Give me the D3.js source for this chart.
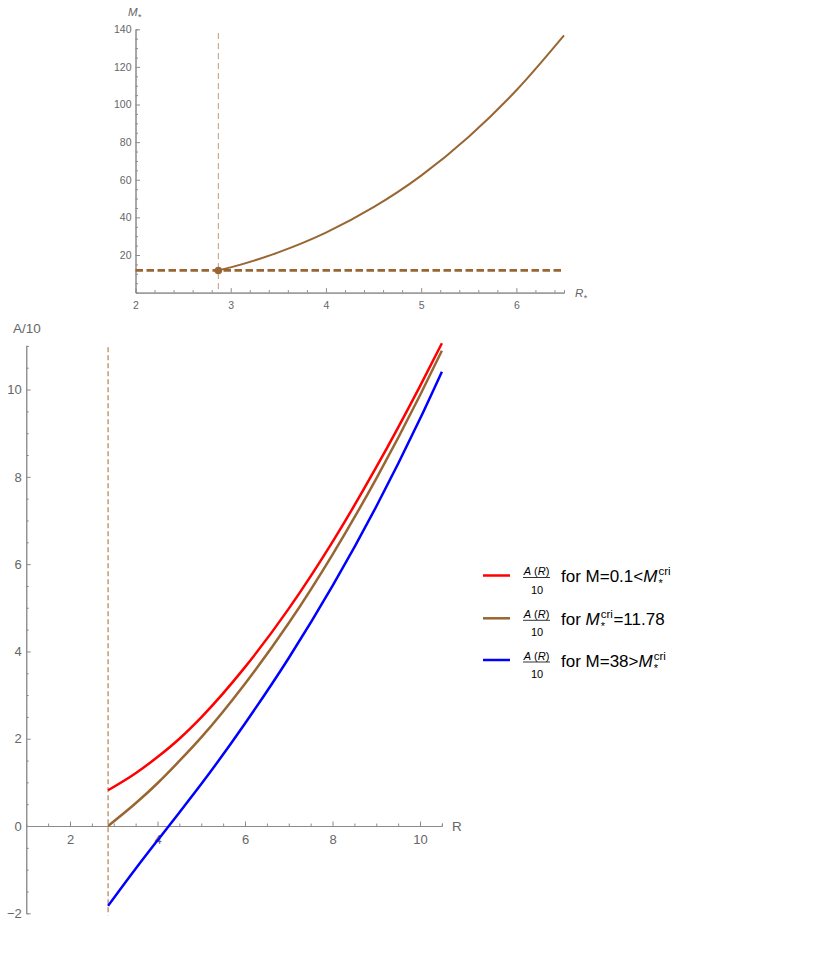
<!DOCTYPE html>
<html>
<head>
<meta charset="utf-8">
<script src="https://cdn.jsdelivr.net/npm/d3@7"></script>
<style>
  body { margin: 0; background: #fff; }
  text { font-family: "Liberation Sans", Arial, sans-serif; }
</style>
</head>
<body>
<script>
// ---- data ----

// top panel: M* against R*
var rStar = [2.87, 3, 3.5, 4, 4.5, 5, 5.5, 6, 6.5];
var mStar = [11.78, 13.4, 21.4, 31.9, 45.4, 62.2, 82.9, 107.6, 136.8];
var mCrit = 11.78;
var rCrit = 2.87;

// bottom panel: A(R)/10 for the three masses
var rVals = [2.87, 3.5, 4, 4.5, 5, 6, 7, 8, 9, 10, 10.5];
var aLow = [0.82, 1.21, 1.58, 2.0, 2.49, 3.64, 4.98, 6.51, 8.22, 10.08, 11.06];
var aCrit = [0, 0.52, 0.98, 1.49, 2.03, 3.26, 4.65, 6.22, 7.96, 9.87, 10.89];
var aHigh = [-1.83, -0.98, -0.33, 0.31, 0.96, 2.35, 3.85, 5.5, 7.32, 9.33, 10.41];

var topXTicks = [2, 3, 4, 5, 6];
var topYTicks = [20, 40, 60, 80, 100, 120, 140];
var botXTicks = [2, 4, 6, 8, 10];
var botYTicks = [-2, 0, 2, 4, 6, 8, 10];

var brown = "#996633";
var axisGray = "#8c8c8c";
var textGray = "#666";

var svg = d3.select("body").append("svg")
    .attr("width", 826)
    .attr("height", 973);

function minorTicks(lo, hi, step, majors) {
    var out = [];
    for (var i = 0; lo + i * step <= hi + 1e-9; i++) {
        var v = +(lo + i * step).toFixed(4);
        if (majors.indexOf(v) < 0) out.push(v);
    }
    return out;
}

function styleAxis(g, size) {
    g.select(".domain").attr("stroke", axisGray);
    g.selectAll(".tick line").attr("stroke", axisGray);
    g.selectAll(".tick text").attr("fill", textGray)
        .style("font-size", size + "px")
        .style("font-family", "Liberation Sans, Arial, sans-serif");
}

// put pieces of text one after another, a sup can sit over the previous sub
function richText(g, x, y, parts) {
    var cx = x, subX = null, subW = 0;
    parts.forEach(function(p) {
        var px = p.stack ? subX : cx + (p.dx || 0);
        var t = g.append("text")
            .attr("x", px)
            .attr("y", y + (p.dy || 0))
            .attr("fill", p.fill || "#000")
            .style("font-size", p.size + "px")
            .style("font-style", p.italic ? "italic" : "normal")
            .text(p.t);
        var w = t.node().getComputedTextLength();
        if (p.stack) {
            cx = subX + Math.max(w, subW);
        } else {
            subX = px;
            subW = w;
            cx = px + w;
        }
    });
}

// ================= top panel =================
var x1 = d3.scaleLinear().domain([2, 6.5]).range([135.5, 564]);
var y1 = d3.scaleLinear().domain([0, 140]).range([292.6, 29.3]);

var topG = svg.append("g");

// x axis, minor then major
topG.append("g")
    .attr("transform", "translate(0," + y1(0) + ")")
    .call(d3.axisBottom(x1).tickValues(minorTicks(2, 6.4, 0.2, topXTicks)).tickSize(-2.5).tickFormat(""))
    .call(styleAxis, 10.5);
topG.append("g")
    .attr("transform", "translate(0," + y1(0) + ")")
    .call(d3.axisBottom(x1).tickValues(topXTicks).tickFormat(d3.format("d"))
        .tickSize(-4.5).tickPadding(8.5).tickSizeOuter(0))
    .call(styleAxis, 10.5);

// y axis
topG.append("g")
    .attr("transform", "translate(" + x1(2) + ",0)")
    .call(d3.axisLeft(y1).tickValues(minorTicks(5, 135, 5, topYTicks)).tickSize(-2.5).tickFormat(""))
    .call(styleAxis, 10.5);
topG.append("g")
    .attr("transform", "translate(" + x1(2) + ",0)")
    .call(d3.axisLeft(y1).tickValues(topYTicks).tickFormat(d3.format("d"))
        .tickSize(-4.5).tickPadding(4).tickSizeOuter(0))
    .call(styleAxis, 10.5);

// dashed guides
topG.append("line")
    .attr("x1", x1(rCrit)).attr("x2", x1(rCrit))
    .attr("y1", y1(138)).attr("y2", y1(0))
    .attr("stroke", brown)
    .attr("stroke-opacity", 0.65)
    .attr("stroke-width", 1)
    .attr("stroke-dasharray", "6,4");

topG.append("line")
    .attr("x1", x1(2)).attr("x2", x1(6.5))
    .attr("y1", y1(mCrit)).attr("y2", y1(mCrit))
    .attr("stroke", brown)
    .attr("stroke-width", 2.8)
    .attr("stroke-dasharray", "7.5,3.5");

var topLine = d3.line()
    .x(function(d, i) { return x1(rStar[i]); })
    .y(function(d) { return y1(d); })
    .curve(d3.curveMonotoneX);

topG.append("path")
    .datum(mStar)
    .attr("d", topLine)
    .attr("fill", "none")
    .attr("stroke", brown)
    .attr("stroke-width", 2);

topG.append("circle")
    .attr("cx", x1(rCrit))
    .attr("cy", y1(mCrit))
    .attr("r", 3.8)
    .attr("fill", brown);

// axis labels
richText(topG, 128, 16, [
    {t: "M", italic: true, size: 11.5, fill: textGray},
    {t: "*", size: 9, dy: 4, dx: 0.5, fill: textGray}
]);
richText(topG, 575, 297, [
    {t: "R", italic: true, size: 11.5, fill: textGray},
    {t: "*", size: 9, dy: 4, dx: 0.5, fill: textGray}
]);

// ================= bottom panel =================
var x2 = d3.scaleLinear().domain([1, 10.5]).range([26.25, 441.9]);
var y2 = d3.scaleLinear().domain([-2, 11]).range([913.3, 345.9]);

var bot = svg.append("g");

bot.append("g")
    .attr("transform", "translate(0," + y2(0) + ")")
    .call(d3.axisBottom(x2).tickValues(minorTicks(1.5, 10.5, 0.5, botXTicks)).tickSize(-2.5).tickFormat(""))
    .call(styleAxis, 13);
bot.append("g")
    .attr("transform", "translate(0," + y2(0) + ")")
    .call(d3.axisBottom(x2).tickValues(botXTicks).tickSize(-4.5).tickPadding(9).tickSizeOuter(0))
    .call(styleAxis, 13);

bot.append("g")
    .attr("transform", "translate(" + x2(1) + ",0)")
    .call(d3.axisLeft(y2).tickValues(minorTicks(-1.5, 11, 0.5, botYTicks)).tickSize(-2.5).tickFormat(""))
    .call(styleAxis, 13);
bot.append("g")
    .attr("transform", "translate(" + x2(1) + ",0)")
    .call(d3.axisLeft(y2).tickValues(botYTicks).tickSize(-4.5).tickPadding(4.5).tickSizeOuter(0))
    .call(styleAxis, 13);

bot.append("line")
    .attr("x1", x2(rCrit)).attr("x2", x2(rCrit))
    .attr("y1", y2(10.97)).attr("y2", y2(-2.05))
    .attr("stroke", "#a8692e")
    .attr("stroke-width", 1)
    .attr("stroke-dasharray", "5,3");

var series = [
    {vals: aLow, color: "#ff0000"},
    {vals: aCrit, color: brown},
    {vals: aHigh, color: "#0000ff"}
];

var botLine = d3.line()
    .x(function(d, i) { return x2(rVals[i]); })
    .y(function(d) { return y2(d); })
    .curve(d3.curveMonotoneX);

bot.selectAll("path.curve")
    .data(series)
    .enter().append("path")
    .attr("class", "curve")
    .attr("d", function(d) { return botLine(d.vals); })
    .attr("fill", "none")
    .attr("stroke", function(d) { return d.color; })
    .attr("stroke-width", 2.5);

bot.append("text")
    .attr("x", 13).attr("y", 333)
    .attr("fill", textGray)
    .style("font-size", "13.5px")
    .text("A/10");
bot.append("text")
    .attr("x", 452).attr("y", 831)
    .attr("fill", textGray)
    .style("font-size", "13.5px")
    .text("R");

// ================= legend =================
var legendRows = [
    {y: 575.5, color: "#ff0000", parts: [
        {t: "for\u00a0M=0.1<", size: 17},
        {t: "M", italic: true, size: 17},
        {t: "*", size: 11, dy: 5, dx: 1},
        {t: "cri", size: 11.5, dy: -7, stack: true}
    ]},
    {y: 618.3, color: brown, parts: [
        {t: "for\u00a0", size: 17},
        {t: "M", italic: true, size: 17},
        {t: "*", size: 11, dy: 5, dx: 1},
        {t: "cri", size: 11.5, dy: -7, stack: true},
        {t: "=11.78", size: 17, dx: 0.5}
    ]},
    {y: 660, color: "#0000ff", parts: [
        {t: "for\u00a0M=38>", size: 17},
        {t: "M", italic: true, size: 17},
        {t: "*", size: 11, dy: 5, dx: 1},
        {t: "cri", size: 11.5, dy: -7, stack: true}
    ]}
];

var legend = svg.append("g");

legendRows.forEach(function(row) {
    legend.append("line")
        .attr("x1", 483).attr("x2", 510)
        .attr("y1", row.y).attr("y2", row.y)
        .attr("stroke", row.color)
        .attr("stroke-width", 2.5);

    // small fraction A(R) over 10
    var num = legend.append("text")
        .attr("x", 536.5).attr("y", row.y - 0.5)
        .attr("text-anchor", "middle")
        .style("font-size", "11px");
    num.append("tspan").style("font-style", "italic").text("A");
    num.append("tspan").text("\u00a0(");
    num.append("tspan").style("font-style", "italic").text("R");
    num.append("tspan").text(")");
    legend.append("line")
        .attr("x1", 523).attr("x2", 550)
        .attr("y1", row.y + 2).attr("y2", row.y + 2)
        .attr("stroke", "#000")
        .attr("stroke-width", 0.8);
    legend.append("text")
        .attr("x", 537).attr("y", row.y + 18)
        .attr("text-anchor", "middle")
        .style("font-size", "11px")
        .text("10");

    richText(legend, 561, row.y + 6.5, row.parts);
});
</script>
</body>
</html>
